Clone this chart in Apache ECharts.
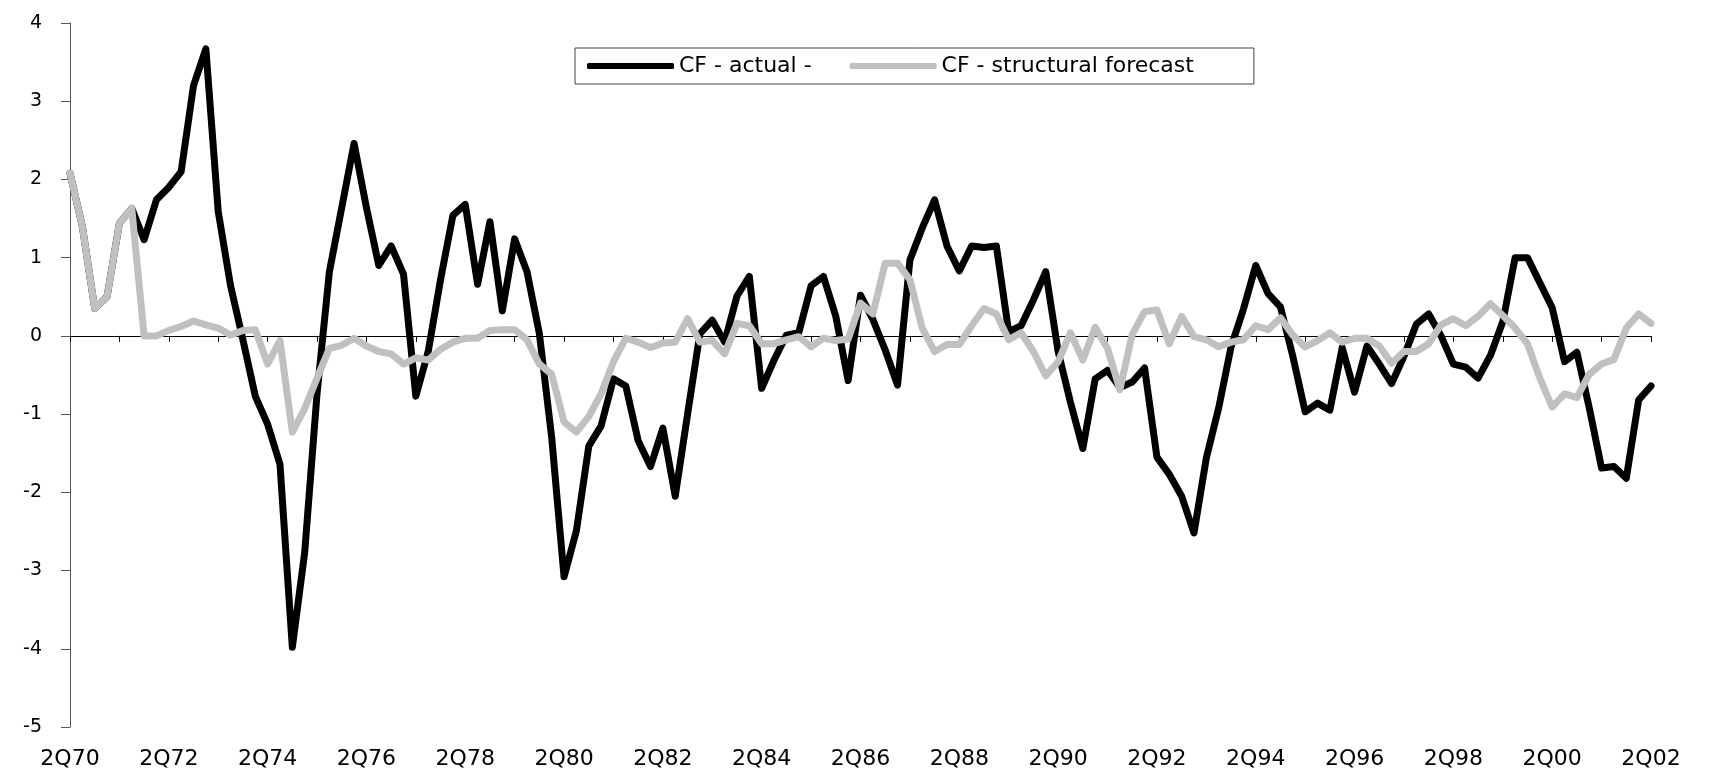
<!DOCTYPE html>
<html>
<head>
<meta charset="utf-8">
<title>CF - actual vs structural forecast</title>
<script src="https://cdn.jsdelivr.net/npm/echarts@6/dist/echarts.min.js"></script>
<style>
	html, body {
		margin: 0;
		padding: 0;
		background: #fff;
	}
	#main {
		width: 1709px;
		height: 773px;
	}
</style>
</head>
<body>
<div id="main"></div>
<script>
	// quarters 2Q70 .. 2Q02
	var quarters = [];
	for (var yr = 1970; yr <= 2002; yr++) {
		for (var q = 1; q <= 4; q++) {
			if (yr === 1970 && q < 2) continue;
			if (yr === 2002 && q > 2) break;
			quarters.push(q + 'Q' + String(yr % 100).padStart(2, '0'));
		}
	}

	var cfActual = [
		2.08, 1.40, 0.35, 0.50, 1.44, 1.63, 1.23, 1.74, 1.90, 2.10,
		3.20, 3.67, 1.59, 0.64, -0.05, -0.77, -1.13, -1.64, -3.98, -2.77,
		-0.74, 0.82, 1.64, 2.46, 1.64, 0.90, 1.15, 0.79, -0.77, -0.20,
		0.72, 1.54, 1.68, 0.66, 1.46, 0.32, 1.24, 0.82, 0.03, -1.30,
		-3.08, -2.49, -1.41, -1.15, -0.55, -0.64, -1.34, -1.67, -1.18, -2.05,
		-1.00, 0.03, 0.20, -0.08, 0.51, 0.76, -0.67, -0.31, 0.01, 0.04,
		0.64, 0.76, 0.25, -0.57, 0.52, 0.21, -0.18, -0.63, 0.97, 1.38,
		1.74, 1.15, 0.83, 1.15, 1.13, 1.15, 0.05, 0.13, 0.46, 0.82,
		-0.20, -0.85, -1.44, -0.55, -0.44, -0.66, -0.59, -0.41, -1.55, -1.77,
		-2.05, -2.52, -1.56, -0.92, -0.14, 0.34, 0.90, 0.54, 0.37, -0.26,
		-0.97, -0.86, -0.95, -0.15, -0.72, -0.13, -0.36, -0.61, -0.26, 0.15,
		0.28, 0.00, -0.36, -0.40, -0.54, -0.25, 0.18, 1.00, 1.00, 0.68,
		0.36, -0.33, -0.21, -0.92, -1.69, -1.67, -1.82, -0.82, -0.64
	];

	var cfForecast = [
		2.08, 1.40, 0.35, 0.50, 1.44, 1.63, 0.00, 0.00, 0.07, 0.12,
		0.19, 0.14, 0.10, 0.01, 0.07, 0.08, -0.36, -0.06, -1.23, -0.93,
		-0.54, -0.16, -0.12, -0.03, -0.13, -0.20, -0.23, -0.36, -0.28, -0.31,
		-0.17, -0.08, -0.03, -0.03, 0.07, 0.08, 0.08, -0.05, -0.36, -0.49,
		-1.10, -1.23, -1.03, -0.74, -0.33, -0.03, -0.08, -0.15, -0.09, -0.08,
		0.22, -0.08, -0.06, -0.23, 0.16, 0.13, -0.10, -0.10, -0.05, -0.01,
		-0.14, -0.03, -0.06, -0.04, 0.42, 0.28, 0.93, 0.93, 0.72, 0.10,
		-0.20, -0.11, -0.11, 0.13, 0.35, 0.28, -0.05, 0.04, -0.20, -0.51,
		-0.33, 0.04, -0.31, 0.11, -0.16, -0.69, 0.02, 0.31, 0.33, -0.10,
		0.25, -0.01, -0.05, -0.14, -0.08, -0.05, 0.13, 0.08, 0.23, 0.01,
		-0.14, -0.06, 0.04, -0.08, -0.03, -0.03, -0.13, -0.35, -0.20, -0.20,
		-0.10, 0.14, 0.22, 0.13, 0.25, 0.41, 0.26, 0.10, -0.10, -0.54,
		-0.91, -0.74, -0.79, -0.49, -0.36, -0.30, 0.10, 0.28, 0.16
	];

	var seriesNames = ['CF - actual -', 'CF - structural forecast'];
	var font = 'DejaVu Sans';

	var myChart = echarts.init(document.getElementById('main'));
	myChart.setOption({
		animation: false,
		backgroundColor: '#fff',
		grid: {
			left: 70,
			right: 58,
			top: 23,
			bottom: 46,
			outerBoundsMode: 'none'
		},
		legend: {
			data: seriesNames,
			icon: 'roundRect',
			left: 575,
			top: 48,
			itemWidth: 87,
			itemHeight: 6,
			itemGap: 38,
			padding: [7, 60, 7, 12],
			borderColor: '#444',
			borderWidth: 1,
			textStyle: {
				fontFamily: font,
				fontSize: 22,
				color: '#000'
			}
		},
		xAxis: [{
			type: 'category',
			data: quarters,
			boundaryGap: false,
			axisLine: {
				onZero: true,
				lineStyle: { color: '#000', width: 1 }
			},
			axisTick: {
				interval: 3,
				length: 6,
				lineStyle: { color: '#000' }
			},
			axisLabel: { show: false },
			splitLine: { show: false }
		}, {
			type: 'category',
			data: quarters,
			boundaryGap: false,
			position: 'bottom',
			axisLine: { show: false, onZero: false },
			axisTick: { show: false },
			axisLabel: {
				interval: 7,
				margin: 21,
				fontFamily: font,
				fontSize: 22,
				color: '#000'
			},
			splitLine: { show: false }
		}],
		yAxis: {
			type: 'value',
			min: -5,
			max: 4,
			interval: 1,
			axisLine: {
				show: true,
				lineStyle: { color: '#555' }
			},
			axisTick: {
				show: true,
				length: 9,
				lineStyle: { color: '#555' }
			},
			axisLabel: {
				margin: 28,
				fontFamily: font,
				fontSize: 19,
				color: '#000'
			},
			splitLine: { show: false }
		},
		series: [{
			name: seriesNames[0],
			type: 'line',
			data: cfActual,
			symbol: 'none',
			lineStyle: { color: '#000', width: 7, join: 'round', cap: 'round' },
			itemStyle: { color: '#000' }
		}, {
			name: seriesNames[1],
			type: 'line',
			data: cfForecast,
			symbol: 'none',
			lineStyle: { color: '#c0c0c0', width: 7, join: 'round', cap: 'round' },
			itemStyle: { color: '#c0c0c0' }
		}]
	});
</script>
</body>
</html>
